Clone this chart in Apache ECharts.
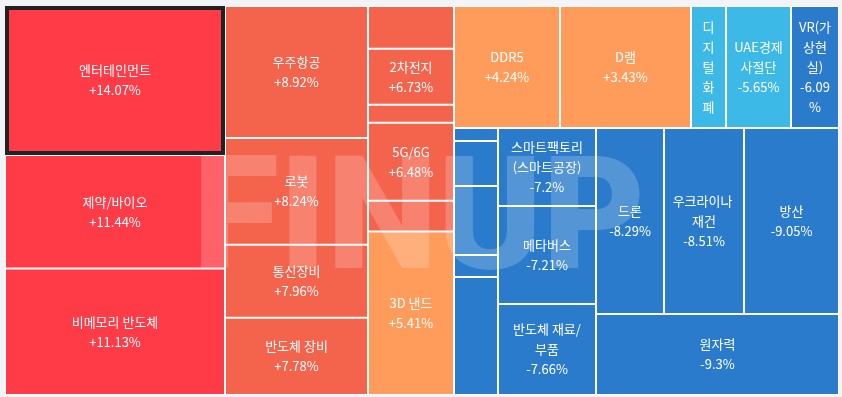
<!DOCTYPE html>
<html>
<head>
<meta charset="utf-8">
<script src="https://cdn.jsdelivr.net/npm/echarts@6/dist/echarts.min.js"></script>
<style>
  html, body { margin: 0; padding: 0; background: #f3f4f8; }
  #chart { width: 842px; height: 397px; }
</style>
</head>
<body>
<div id="chart"></div>
<script>
// Sector names in display order (unnamed small cells have empty names)
const names = [
  '엔터테인먼트', '제약/바이오', '비메모리 반도체',
  '우주항공', '로봇', '통신장비', '반도체 장비',
  '', '2차전지', '', '5G/6G', '', '3D 낸드',
  'DDR5', 'D램', '디지털화폐', 'UAE경제사절단', 'VR(가상현실)',
  '', '', '', '', '',
  '스마트팩토리\n(스마트공장)', '메타버스', '반도체 재료/부품',
  '드론', '우크라이나 재건', '방산', '원자력'
];
// Cell sizes (relative weights)
const sizes = [
  32780, 24970, 27830,
  18876, 15258, 10439, 11054,
  3672, 4816, 1548, 6708, 2649, 14061,
  12932, 15982, 4270, 7930, 5856,
  572, 1980, 3036, 968, 5192,
  7644, 9604, 8918,
  12648, 14880, 17670, 19683
];
// Daily change (%)
const changes = [
  14.07, 11.44, 11.13,
  8.92, 8.24, 7.96, 7.78,
  7.5, 6.73, 6.6, 6.48, 6.0, 5.41,
  4.24, 3.43, -5.3, -5.65, -6.09,
  -6.3, -6.5, -6.7, -6.9, -7.1,
  -7.2, -7.21, -7.66,
  -8.29, -8.51, -9.05, -9.3
];

function colorFor(p) {
  if (p >= 10) return '#ff3b47';
  if (p >= 5.5) return '#f4634b';
  if (p >= 0) return '#ff9c5b';
  if (p > -6) return '#3db9e8';
  return '#2a7bcc';
}

const data = names.map((n, i) => {
  const item = {
    name: n,
    value: sizes[i],
    pct: changes[i],
    itemStyle: { color: colorFor(changes[i]) }
  };
  if (i === 0) {
    item.itemStyle.borderColor = '#222';
    item.itemStyle.borderWidth = 4;
  }
  return item;
});

const chart = echarts.init(document.getElementById('chart'), null, { renderer: 'canvas' });
chart.setOption({
  backgroundColor: '#f3f4f8',
  animation: false,
  tooltip: { show: false },
  graphic: [{
    type: 'text',
    silent: true,
    z: 100,
    x: 419,
    y: 228,
    style: {
      text: 'FINUP',
      fontSize: 158,
      fontWeight: 900,
      fontFamily: 'Roboto',
      fill: 'rgba(255,255,255,0.2)',
      align: 'center',
      verticalAlign: 'middle'
    }
  }],
  series: [{
    type: 'treemap',
    left: 5,
    top: 6,
    width: 834,
    height: 389,
    sort: false,
    roam: false,
    nodeClick: false,
    breadcrumb: { show: false },
    itemStyle: { borderColor: '#fff', borderWidth: 1, gapWidth: 0 },
    levels: [
      { itemStyle: { borderWidth: 0, gapWidth: 0 } },
      { itemStyle: { borderColor: '#fff', borderWidth: 1, gapWidth: 0 } }
    ],
    label: {
      show: true,
      position: 'inside',
      color: '#fff',
      fontSize: 13,
      lineHeight: 20,
      fontFamily: 'Noto Sans CJK KR',
      overflow: 'break',
      formatter: function (p) {
        if (!p.name) return '';
        const v = p.data.pct;
        return p.name + '\n' + (v > 0 ? '+' : '') + v + '%';
      }
    },
    upperLabel: { show: false },
    data: data
  }]
});
</script>
</body>
</html>
